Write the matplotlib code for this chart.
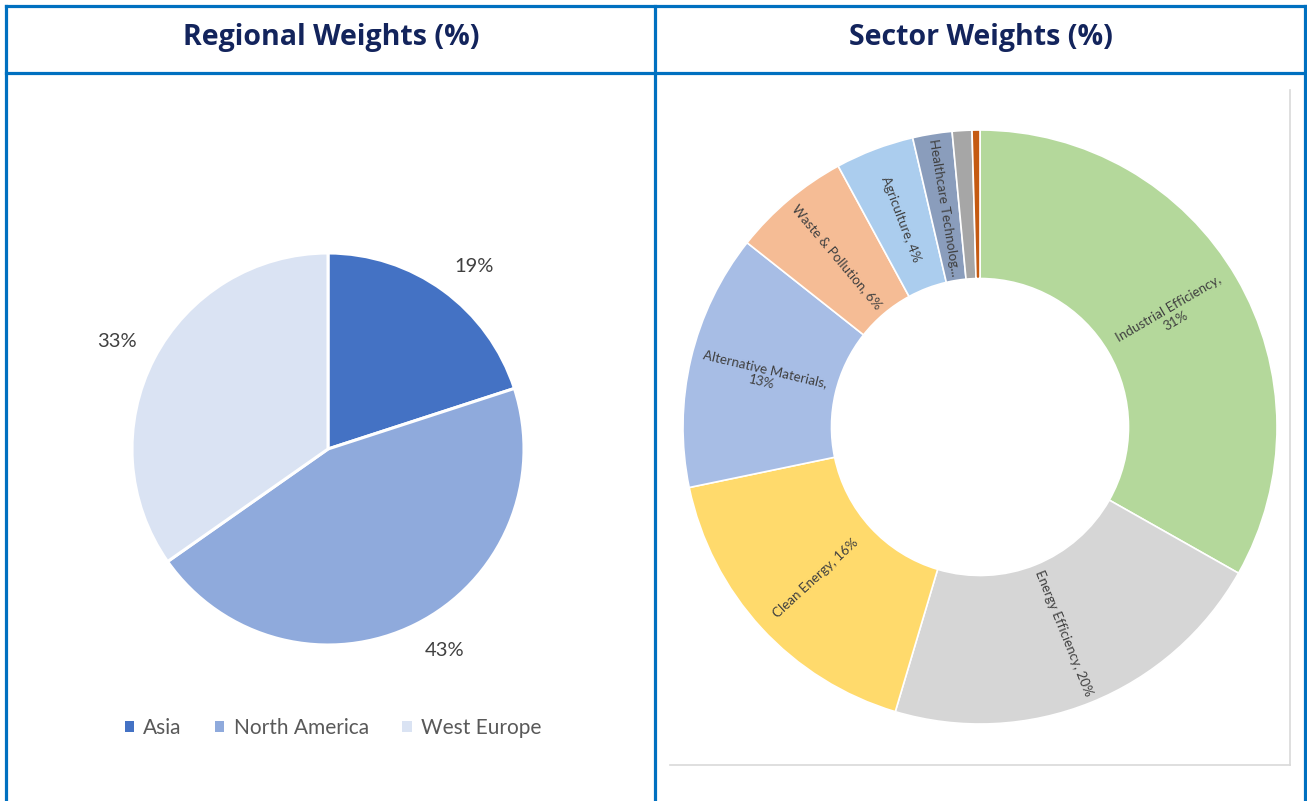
import matplotlib.pyplot as plt
import numpy as np
from matplotlib.lines import Line2D
from matplotlib.patches import Patch

# regional weights (%)
regions = ["Asia", "North America", "West Europe"]
region_pct = [19, 43, 33]
region_colors = ["#4472C4", "#8FAADC", "#DAE3F3"]

# sector weights (%)
sectors = ["Industrial Efficiency", "Energy Efficiency", "Clean Energy",
           "Alternative Materials", "Waste & Pollution", "Agriculture",
           "Healthcare Technology", "Other", "Cash"]
sector_pct = [31, 20, 16, 13, 6, 4, 2, 1, 0.4]
sector_labels = ["Industrial Efficiency,\n31%", "Energy Efficiency, 20%", "Clean Energy, 16%",
                 "Alternative Materials,\n13%", "Waste & Pollution, 6%", "Agriculture, 4%",
                 "Healthcare Technolog...", "", ""]
sector_colors = ["#B4D89B", "#D6D6D6", "#FFDA6C", "#A7BDE5", "#F5BC95",
                 "#ABCDEE", "#8A9DBC", "#A6A6A6", "#C55A11"]

W, H = 1307, 801
fig = plt.figure(figsize=(W / 100, H / 100), dpi=100)
fig.patch.set_facecolor("white")

def fx(x):
    return x / W

def fy(y):
    return 1 - y / H

# frame lines of the table
blue = "#0070C0"
for x0, y0, x1, y1 in [(6, 6, 1305, 6), (6, 73, 1305, 73), (6, 6, 6, 801),
                       (655, 6, 655, 801), (1305, 6, 1305, 801)]:
    fig.add_artist(Line2D([fx(x0), fx(x1)], [fy(y0), fy(y1)], color=blue, lw=2.3))
for x0, y0, x1, y1 in [(670, 765, 1290, 765), (1290, 90, 1290, 765)]:
    fig.add_artist(Line2D([fx(x0), fx(x1)], [fy(y0), fy(y1)], color="#D9D9D9", lw=1.2))

title_kw = dict(fontsize=20.5, fontweight="bold", color="#13245C", family="Open Sans",
                ha="center", va="center")
fig.text(fx(331), fy(37), "Regional Weights (%)", **title_kw)
fig.text(fx(981), fy(37), "Sector Weights (%)", **title_kw)

# left pie
cx, cy, r = 328, 449, 196
half = 250
ax1 = fig.add_axes([fx(cx - half), fy(cy + half), 2 * half / W, 2 * half / H])
wedges, _ = ax1.pie(region_pct, colors=region_colors, startangle=90, counterclock=False,
                    radius=1, wedgeprops=dict(edgecolor="white", linewidth=2.2))
lim = half / r
ax1.set_xlim(-lim, lim)
ax1.set_ylim(-lim, lim)
ax1.axis("off")
for w, v in zip(wedges, region_pct):
    a = np.deg2rad((w.theta1 + w.theta2) / 2)
    x, y = 1.1 * np.cos(a), 1.1 * np.sin(a)
    ax1.text(x, y, f"{v}%", ha="left" if x > 0 else "right",
             va="bottom" if y > 0 else "top",
             fontsize=14.5, color="#404040", family="Lato")

handles = [Patch(facecolor=c, edgecolor="none") for c in region_colors]
fig.legend(handles, regions, loc="center", bbox_to_anchor=(fx(333), fy(728)),
           ncol=3, frameon=False, prop=dict(family="Lato", size=15),
           labelcolor="#595959", handlelength=0.45, handleheight=0.45,
           handletextpad=0.45, columnspacing=1.6)

# right donut
cx, cy, r = 980, 427, 297
half = 310
ax2 = fig.add_axes([fx(cx - half), fy(cy + half), 2 * half / W, 2 * half / H])
wedges, _ = ax2.pie(sector_pct, colors=sector_colors, startangle=90, counterclock=False,
                    radius=1, wedgeprops=dict(width=0.5, edgecolor="white", linewidth=1.2))
lim = half / r
ax2.set_xlim(-lim, lim)
ax2.set_ylim(-lim, lim)
ax2.axis("off")
for w, lab in zip(wedges, sector_labels):
    if not lab:
        continue
    mid = (w.theta1 + w.theta2) / 2
    a = np.deg2rad(mid)
    rot = (mid + 180) % 360 - 180
    if rot > 90:
        rot -= 180
    elif rot < -90:
        rot += 180
    ax2.text(0.75 * np.cos(a), 0.75 * np.sin(a), lab, ha="center", va="center",
             rotation=rot, rotation_mode="anchor", fontsize=9.6, color="#404040",
             family="Lato", multialignment="center", linespacing=1.2)

fig.savefig("out.png", dpi=100)
